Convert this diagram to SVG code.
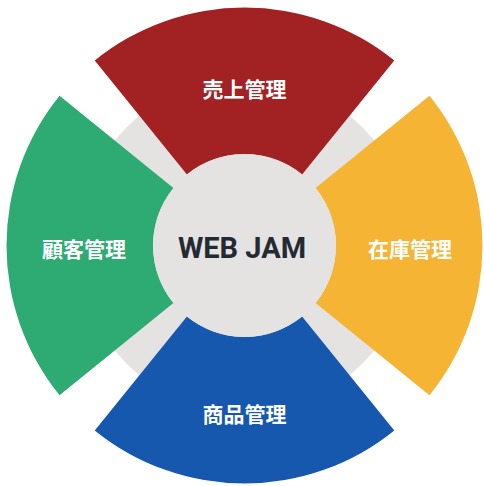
<svg xmlns="http://www.w3.org/2000/svg" width="484" height="486" viewBox="0 0 484 486">
  <style>
    .lbl { font-family: "Noto Sans CJK JP", "Noto Sans", sans-serif; font-weight: 700; font-size: 21px; fill: #ffffff; text-anchor: middle; dominant-baseline: central; }
    .core { font-family: Roboto, "Liberation Sans", sans-serif; font-weight: 700; font-size: 29px; fill: #232a33; text-anchor: middle; }
    .ring { fill: #e5e3e1; }
  </style>
  <rect width="484" height="486" fill="#ffffff"/>
  <g id="ring">
    <circle class="ring" cx="244.5" cy="245.5" r="167"/>
  </g>
  <g id="sales">
    <path d="M94.72,60.54 A238,238 0 0 1 394.28,60.54 L302.08,174.39 A91.5,91.5 0 0 0 186.92,174.39 Z" fill="#a22223"/>
    <text class="lbl" x="244.5" y="87.5">売上管理</text>
  </g>
  <g id="inventory">
    <path d="M429.46,95.72 A238,238 0 0 1 429.46,395.28 L315.61,303.08 A91.5,91.5 0 0 0 315.61,187.92 Z" fill="#f5b434"/>
    <text class="lbl" x="410" y="247.5">在庫管理</text>
  </g>
  <g id="products">
    <path d="M394.28,430.46 A238,238 0 0 1 94.72,430.46 L186.92,316.61 A91.5,91.5 0 0 0 302.08,316.61 Z" fill="#1658ae"/>
    <text class="lbl" x="244.5" y="412.5">商品管理</text>
  </g>
  <g id="customers">
    <path d="M59.54,395.28 A238,238 0 0 1 59.54,95.72 L173.39,187.92 A91.5,91.5 0 0 0 173.39,303.08 Z" fill="#2eab72"/>
    <text class="lbl" x="84" y="247.5">顧客管理</text>
  </g>
  <g id="center">
    <circle class="ring" cx="244.5" cy="245.5" r="91.5"/>
    <text class="core" x="242" y="258">WEB JAM</text>
  </g>
</svg>
